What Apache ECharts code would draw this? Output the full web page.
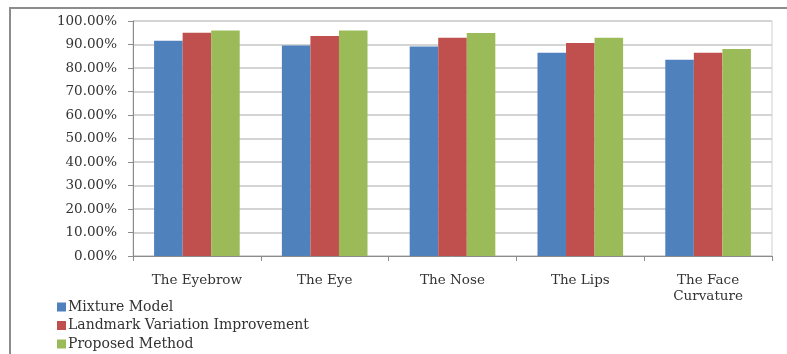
<!DOCTYPE html>
<html>
<head>
<meta charset="utf-8">
<script src="https://cdn.jsdelivr.net/npm/echarts@6/dist/echarts.min.js"></script>
<style>
  html, body { margin: 0; padding: 0; background: #fff; }
  #chart { width: 787px; height: 354px; }
</style>
</head>
<body>
<div id="chart"></div>
<script>
// Detection accuracy per facial region (%)
const categories = ['The Eyebrow', 'The Eye', 'The Nose', 'The Lips', 'The Face\nCurvature'];
const mixtureModel = [91.6, 89.6, 89.1, 86.5, 83.5];
const landmarkVariation = [95.0, 93.6, 92.9, 90.6, 86.5];
const proposedMethod = [96.0, 96.0, 94.9, 92.9, 88.1];
const seriesNames = ['Mixture Model', 'Landmark Variation Improvement', 'Proposed Method'];
const seriesColors = ['#4F81BD', '#C0504D', '#9BBB59'];

const fontFamily = '"DejaVu Serif", serif';
const fontSize = 13.5;
const chart = echarts.init(document.getElementById('chart'));

const seriesData = [mixtureModel, landmarkVariation, proposedMethod];

chart.setOption({
  animation: false,
  textStyle: { fontFamily: fontFamily },
  graphic: [{
    type: 'rect',
    shape: { x: 10, y: 8, width: 820, height: 400 },
    style: { fill: 'none', stroke: '#8c8c8c', lineWidth: 2 },
    silent: true
  }],
  grid: {
    left: 133, right: 15, top: 21, bottom: 98,
    show: true, borderColor: '#d0d0d0', borderWidth: 1,
    containLabel: false
  },
  legend: {
    orient: 'vertical',
    left: 57, top: 300,
    padding: 0,
    itemWidth: 9, itemHeight: 9, itemGap: 4.5,
    icon: 'rect',
    textStyle: { fontFamily: fontFamily, fontSize: 14, color: '#333', padding: [0, 0, 0, -3] },
    data: seriesNames
  },
  xAxis: {
    type: 'category',
    data: categories,
    axisLine: { lineStyle: { color: '#8c8c8c', width: 1 } },
    axisTick: { show: true, length: 5, lineStyle: { color: '#8c8c8c' } },
    axisLabel: { fontFamily: fontFamily, fontSize: fontSize, color: '#333', margin: 16, lineHeight: 16 }
  },
  yAxis: {
    type: 'value',
    min: 0, max: 100, interval: 10,
    axisLine: { show: true, lineStyle: { color: '#8c8c8c', width: 1 } },
    axisTick: { show: true, length: 5, lineStyle: { color: '#8c8c8c' } },
    axisLabel: {
      fontFamily: fontFamily, fontSize: fontSize, color: '#333', margin: 16,
      formatter: v => v.toFixed(2) + '%'
    },
    splitLine: { lineStyle: { color: '#d4d4d4', width: 2 } }
  },
  series: seriesNames.map((name, i) => ({
    name: name,
    type: 'bar',
    data: seriesData[i],
    barGap: '0%',
    barCategoryGap: '33%',
    itemStyle: { color: seriesColors[i] }
  }))
});
</script>
</body>
</html>
